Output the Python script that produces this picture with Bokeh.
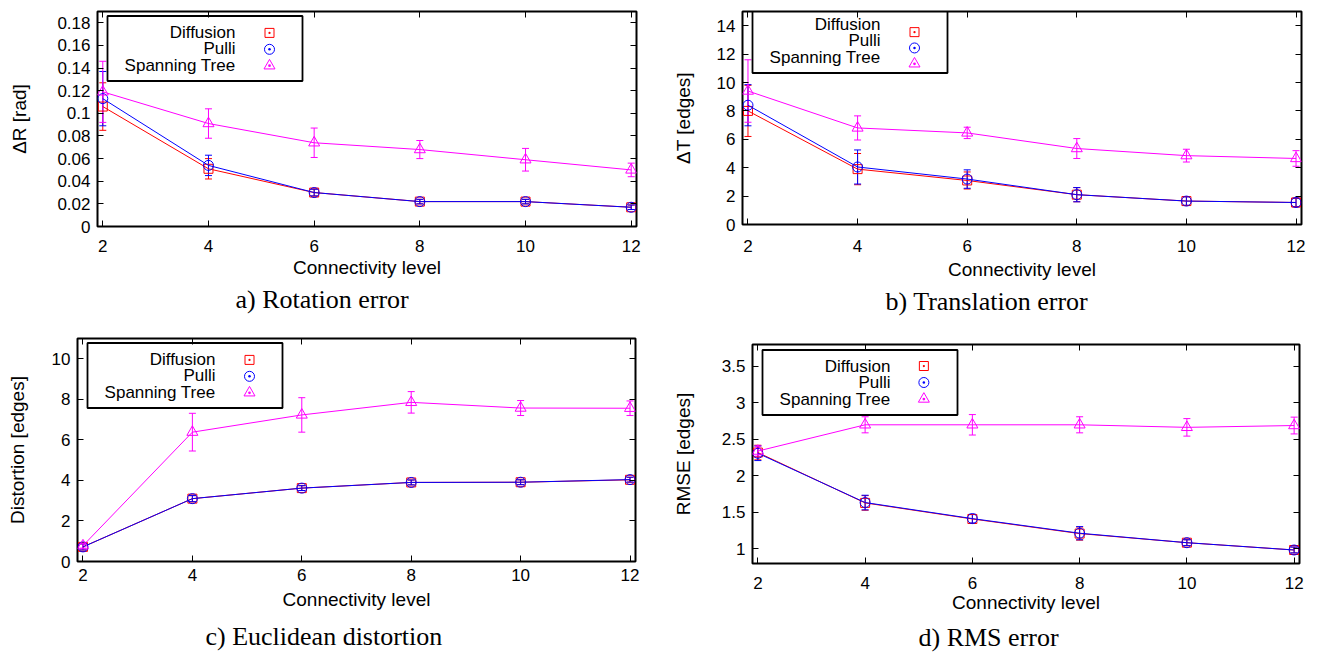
import numpy as np
from bokeh.plotting import figure
from bokeh.models import (ColumnDataSource, Whisker, TeeHead, FixedTicker, CustomJSTickFormatter,
                          LinearAxis, Range1d, Title, Label, BoxAnnotation, CustomLabelingPolicy)
from bokeh.layouts import row, column
from bokeh.embed import file_html
from bokeh.resources import INLINE

# ---------------- data ----------------
connectivity = [2, 4, 6, 8, 10, 12]
x_ticks = [2, 4, 6, 8, 10, 12]
series_names = ["Diffusion", "Pulli", "Spanning Tree"]

# a) Rotation error [rad]
diff_rot = [0.106, 0.051, 0.030, 0.022, 0.022, 0.017]
diff_rot_err = [0.021, 0.009, 0.003, 0.002, 0.002, 0.002]
pulli_rot = [0.113, 0.054, 0.030, 0.022, 0.022, 0.017]
pulli_rot_err = [0.024, 0.009, 0.003, 0.002, 0.002, 0.002]
st_rot = [0.119, 0.091, 0.074, 0.068, 0.059, 0.050]
st_rot_err = [0.027, 0.013, 0.013, 0.008, 0.010, 0.006]
rot_ticks = [0, 0.02, 0.04, 0.06, 0.08, 0.1, 0.12, 0.14, 0.16, 0.18]

# b) Translation error [edges]
diff_tr = [8.0, 3.9, 3.1, 2.1, 1.65, 1.55]
diff_tr_err = [1.8, 1.1, 0.6, 0.5, 0.3, 0.3]
pulli_tr = [8.4, 4.05, 3.2, 2.1, 1.65, 1.55]
pulli_tr_err = [1.45, 1.2, 0.65, 0.5, 0.3, 0.3]
st_tr = [9.4, 6.8, 6.45, 5.35, 4.85, 4.65]
st_tr_err = [2.2, 0.85, 0.4, 0.7, 0.45, 0.55]
tr_ticks = [0, 2, 4, 6, 8, 10, 12, 14]

# c) Euclidean distortion [edges]
diff_dist = [0.72, 3.1, 3.62, 3.9, 3.91, 4.03]
diff_dist_err = [0.15, 0.15, 0.12, 0.12, 0.12, 0.12]
pulli_dist = [0.72, 3.1, 3.62, 3.9, 3.91, 4.04]
pulli_dist_err = [0.15, 0.15, 0.12, 0.12, 0.12, 0.12]
st_dist = [0.78, 6.38, 7.23, 7.85, 7.57, 7.56]
st_dist_err = [0.12, 0.93, 0.85, 0.53, 0.37, 0.36]
dist_ticks = [0, 2, 4, 6, 8, 10]

# d) RMS error [edges]
diff_rmse = [2.32, 1.63, 1.41, 1.21, 1.085, 0.985]
diff_rmse_err = [0.10, 0.10, 0.06, 0.09, 0.04, 0.04]
pulli_rmse = [2.31, 1.635, 1.415, 1.215, 1.085, 0.985]
pulli_rmse_err = [0.10, 0.10, 0.06, 0.09, 0.04, 0.04]
st_rmse = [2.34, 2.70, 2.70, 2.70, 2.665, 2.69]
st_rmse_err = [0.07, 0.11, 0.14, 0.11, 0.12, 0.115]
rmse_ticks = [1, 1.5, 2, 2.5, 3, 3.5]

# ---------------- style ----------------
COLORS = ["#ff0000", "#0000ff", "#ff00ff"]
MARKERS = ["square", "circle", "triangle"]
KEY_MARKERS = ["square_dot", "circle_dot", "triangle_dot"]
MSIZE = [9, 10, 11]
SANS = "Liberation Sans"
SERIF = "Liberation Serif"

fmt = CustomJSTickFormatter(code="return String(Number(tick.toPrecision(6)));")
no_labels = CustomLabelingPolicy(code="""
const all = [...indices];
for (const i of all) indices.unset(i);
return indices;
""")


def make_panel(width, height, borders, yr, yticks, ylabel, title, title_offset,
               ylabel_standoff, x_std, xlabel_std, title_std, series):
    bl, br, bt, bb = borders
    fw = width - bl - br
    fh = height - bt - bb
    p = figure(width=width, height=height, x_range=Range1d(1.9, 12.1), y_range=Range1d(*yr),
               output_backend="svg", toolbar_location=None,
               min_border_left=bl, min_border_right=br, min_border_top=bt, min_border_bottom=bb)
    p.frame_align = False
    p.xgrid.visible = False
    p.ygrid.visible = False
    p.outline_line_color = "black"
    p.outline_line_width = 2
    p.outline_line_alpha = 1
    p.background_fill_color = "white"
    p.border_fill_color = "white"

    xa = p.xaxis[0]
    xa.ticker = FixedTicker(ticks=x_ticks)
    xa.axis_label = "Connectivity level"
    ya = p.yaxis[0]
    ya.ticker = FixedTicker(ticks=yticks)
    ya.formatter = fmt
    ya.axis_label = ylabel
    for ax in (xa, ya):
        ax.major_tick_in = 6
        ax.major_tick_out = 0
        ax.minor_tick_line_color = None
        ax.axis_line_color = None
        ax.major_tick_line_color = "black"
        ax.major_label_text_font = SANS
        ax.major_label_text_font_size = "17px"
        ax.major_label_text_color = "black"
        ax.axis_label_text_font = SANS
        ax.axis_label_text_font_size = "19px"
        ax.axis_label_text_font_style = "normal"
        ax.axis_label_text_color = "black"
    xa.major_label_standoff = x_std
    xa.axis_label_standoff = xlabel_std
    ya.major_label_standoff = 7
    ya.axis_label_standoff = ylabel_standoff

    # mirrored ticks on top / right (no labels)
    for side, ticks in (("above", x_ticks), ("right", yticks)):
        ax = LinearAxis(ticker=FixedTicker(ticks=ticks), major_label_policy=no_labels,
                        major_tick_in=6, major_tick_out=0, minor_tick_line_color=None,
                        axis_line_color=None, major_label_standoff=0,
                        major_tick_line_color="black")
        p.add_layout(ax, side)

    # data series
    for i, (vals, errs) in enumerate(series):
        v = np.array(vals, dtype=float)
        e = np.array(errs, dtype=float)
        src = ColumnDataSource(dict(x=connectivity, y=v, upper=v + e, lower=v - e))
        p.line("x", "y", source=src, line_color=COLORS[i], line_width=1)
        w = Whisker(base="x", upper="upper", lower="lower", source=src,
                    line_color=COLORS[i], line_width=1,
                    upper_head=TeeHead(size=7, line_color=COLORS[i], line_width=1),
                    lower_head=TeeHead(size=7, line_color=COLORS[i], line_width=1))
        p.add_layout(w)
        p.scatter("x", "y", source=src, marker=MARKERS[i], size=MSIZE[i],
                  line_color=COLORS[i], fill_color=None, line_width=1)

    # key (gnuplot style: text then sample, boxed), placed in frame pixels
    p.extra_x_ranges = {"kx": Range1d(0, fw)}
    p.extra_y_ranges = {"ky": Range1d(0, fh)}
    box_l, box_t, box_w, box_h = 10, 5.5, 195, 65
    p.add_layout(BoxAnnotation(left=box_l, right=box_l + box_w, top=fh - box_t,
                               bottom=fh - box_t - box_h,
                               left_units="screen", right_units="screen",
                               top_units="screen", bottom_units="screen",
                               line_color="black", line_alpha=1, line_width=1.8,
                               fill_alpha=0))
    row_t = [21.5, 38.0, 54.5]
    for i, name in enumerate(series_names):
        p.add_layout(Label(x=138, y=fh - row_t[i], x_units="screen", y_units="screen",
                           text=name, text_align="right", text_baseline="middle",
                           text_font=SANS, text_font_size="17px", text_color="black"))
        p.scatter(x=[172], y=[fh - row_t[i]], x_range_name="kx", y_range_name="ky",
                  marker=KEY_MARKERS[i], size=MSIZE[i], line_color=COLORS[i],
                  fill_color=None, line_width=1)

    p.add_layout(Title(text=title, align="left", offset=title_offset, text_font=SERIF,
                       text_font_size="26px", text_font_style="normal", text_color="black",
                       standoff=title_std),
                 "below")
    return p


pa = make_panel(660, 320, (97, 24, 10, 94), (0, 0.19), rot_ticks, "ΔR [rad]",
                "a) Rotation error", 138, 24, 13, 2, 4,
                [(diff_rot, diff_rot_err), (pulli_rot, pulli_rot_err), (st_rot, st_rot_err)])
pb = make_panel(657, 320, (82, 16, 2, 96), (0, 15), tr_ticks, "ΔT [edges]",
                "b) Translation error", 143, 20, 15, 4, 4,
                [(diff_tr, diff_tr_err), (pulli_tr, pulli_tr_err), (st_tr, st_tr_err)])
pc = make_panel(660, 337, (77, 25, 18, 95), (0, 11), dist_ticks, "Distortion [edges]",
                "c) Euclidean distortion", 128, 21, 7, 5, 14,
                [(diff_dist, diff_dist_err), (pulli_dist, pulli_dist_err), (st_dist, st_dist_err)])
pd_ = make_panel(657, 337, (92, 16, 24, 94), (0.8, 3.8), rmse_ticks, "RMSE [edges]",
                 "d) RMS error", 166, 25, 13, 0, 10,
                 [(diff_rmse, diff_rmse_err), (pulli_rmse, pulli_rmse_err), (st_rmse, st_rmse_err)])

layout = row(column(pa, pc), column(pb, pd_))
open("out.html", "w").write(file_html(layout, INLINE))
